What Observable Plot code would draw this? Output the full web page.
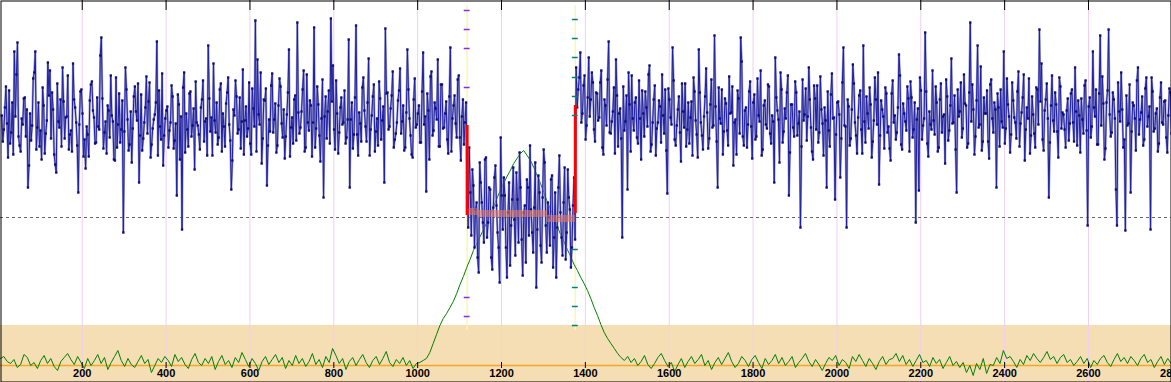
<!DOCTYPE html>
<html>
<head>
<meta charset="utf-8">
<script src="https://cdn.jsdelivr.net/npm/d3@7"></script>
<script src="https://cdn.jsdelivr.net/npm/@observablehq/plot@0.6"></script>
<style>
  html, body { margin: 0; padding: 0; background: #fff; }
  #chart svg { display: block; }
</style>
</head>
<body>
<div id="chart"></div>
<script>
// ---- data ----
const xTicks = [200, 400, 600, 800, 1000, 1200, 1400, 1600, 1800, 2000, 2200, 2400, 2600, 2800];

// blue series: samples every 5 units, plus the in-between samples (offset 2.5)
const blueStep = 5;
const blueLeftStart = 8;
const blueLeft = [
  102,88,131,60,74,115,166,143,81,66,
  93,120,108,52,77,139,166,90,71,58,
  112,84,155,147,125,63,45,96,118,150,
  79,101,68,87,154,110,72,93,128,61,
  49,83,117,136,100,75,91,162,119,85,
  64,107,142,96,57,70,124,88,-15,150,
  98,73,55,121,106,134,82,67,95,141,
  116,60,89,103,176,127,78,52,99,111,
  87,132,69,94,123,58,-12,145,104,71,
  126,92,48,95,83,110,137,96,62,119,
  100,154,85,73,128,66,91,114,140,77,
  57,102,121,88,69,148,97,81,135,63,
  109,197,158,93,54,118,129,72,86,144,
  98,65,112,131,80,59,103,168,90,74,
  122,195,84,106,147,70,95,117,61,190,
  89,113,56,138,101,79,127,199,152,68,
  104,85,120,95,74,98,30,115,83,192,
  62,94,130,107,76,159,88,121,66,99,
  136,78,111,189,125,91,122,70,84,117,
  149,96,67,105,128,82,60,139,93,112,
  75,165,101,124,58,146,87,109,158,71,
  133,90,116,64,170,99,122,80,142,57,
  118,95
];
const blueLeftMid = [
  76,110,94,127,85,63,101,175,72,99,
  119,81,30,104,92,145,68,115,87,130,
  64,97,122,79,108,53,134,90,71,116,
  100,142,83,66,118,95,25,126,104,78,
  91,61,133,107,74,120,88,180,69,96,
  112,80,102,58,140,93,75,117,86,128,
  67,106,89,131,97,35,123,79,110,84,
  135,73,98,115,62,91,144,82,107,70,
  95,121,77,22,113,101,130,65,88,124,
  81,109,136,92,68,118,76,99,172,86,
  62,97,115,80,134,104,71,125,93,28,
  108,137,84,120,96,63,111,89,74,129,
  91,66,103,145,79,117,32,98,132,85,
  114,72,139,94,108,81,125,61,100,118,
  77,105,90,128,66,143,87,112,95,70,
  131,82,99,20,121,106,74,116,88,137,
  64,110,93,127,80,178,98,69,120,83,
  105,76,140,91,115,62,102,133,86,72,
  119,97,35,124,88,109,146,78,95,127,
  84,112,70,168,99,63,118,90,104,75,
  126,93,26,107,141,82,115,98,71,133,
  89,104,78,121,66,112,94,138,80,101,
  73,115
];
const blueCenterStart = 1118;
const blueCenter = [
  45,70,-18,32,8,-40,55,15,-25,60,
  -5,28,-52,40,12,-30,80,-12,22,-60,
  35,-8,50,-38,18,65,-22,5,-45,30,
  72,-15,10,-70,42,-28,20,55,-35,0,
  38,-50,25,-10,62,-20,15,-42,48,8,
  -30,40
];
const blueCenterMid = [
  -10,25,48,-30,15,-55,35,-5,58,-20,
  30,-40,10,52,-15,-65,22,40,-30,5,
  -48,18,-2,45,-25,30,-58,12,38,-18,
  8,-35,55,-12,25,-45,68,-8,15,-28,
  42,-20,-60,30,5,-38,50,-15,20,-50,
  12,-22
];
const blueRightStart = 1378;
const blueRight = [
  150,128,165,104,142,92,160,118,135,76,
  124,100,147,63,112,138,85,96,130,158,
  71,109,-20,87,122,145,66,99,115,80,
  137,58,104,126,91,152,73,118,62,95,
  111,143,84,67,129,100,170,78,92,121,
  56,106,134,88,74,116,140,97,60,125,
  82,101,149,69,113,90,182,76,130,94,
  63,119,87,141,105,52,98,127,84,156,
  72,110,93,136,59,123,81,102,147,68,
  117,89,131,74,96,160,107,55,128,86,
  99,142,65,113,81,125,94,-10,138,103,
  77,150,90,58,119,132,85,108,62,97,
  126,71,144,100,83,116,40,135,92,-10,
  111,79,153,95,64,122,88,172,75,104,
  130,60,97,118,145,82,108,69,124,91,
  57,137,102,85,163,73,114,96,131,66,
  120,88,-5,109,140,78,99,126,61,93,
  147,83,115,70,134,101,54,121,87,159,
  95,68,128,106,80,143,112,74,195,133,
  63,117,90,151,76,104,127,59,138,85,
  108,124,71,96,166,89,113,65,135,100,
  79,146,94,120,57,110,139,82,103,70,
  128,188,154,67,118,99,75,142,86,113,
  60,131,105,88,107,77,124,95,150,72,
  102,119,84,137,-8,120,91,110,128,73,
  182,141,58,115,188,81,125,99,-8,106,
  145,70,-13,92,133,86,112,67,150,98,
  121,78,140,101,-12,126,89,109,74,135,
  93,117,65,129,84
];
const blueRightMid = [
  110,140,95,132,78,120,101,145,88,125,
  97,135,70,118,92,176,84,106,64,122,
  104,79,131,96,28,113,142,87,120,74,
  99,127,81,110,143,66,95,132,89,117,
  75,102,128,24,118,93,137,72,108,85,
  134,90,71,115,100,62,126,83,168,95,
  68,121,105,79,138,92,111,30,99,128,
  86,114,72,104,131,95,63,119,180,81,
  107,70,126,91,115,78,139,96,62,112,
  93,133,84,102,35,120,98,145,75,109,
  125,22,113,90,136,82,106,71,97,129,
  101,118,66,132,88,75,141,94,110,30,
  87,123,99,18,115,103,79,170,91,118,
  72,108,134,82,100,127,64,96,121,89,
  113,76,140,93,33,117,101,130,85,69,
  124,95,78,110,142,68,104,87,119,136,
  80,115,98,27,127,92,185,74,106,88,
  97,131,66,118,85,103,138,77,112,94,
  122,25,101,135,89,114,70,125,96,108,
  81,172,93,67,120,104,76,133,99,115,
  30,110,128,90,74,139,101,83,117,95,
  126,71,105,143,88,99,64,121,84,130,
  93,116,78,107,134,20,112,97,125,86,
  140,89,103,70,119,94,128,76,106,117,
  65,98,132,87,111,80,166,101,73,124,
  92,114,69,127,103,85,118,28,135,96,
  108,78,122,94,25,115,99,137,83,105,
  72,129,91,111,140,86,104,66,120,95,
  116,80,102,125,88
];
const midOffset = 2.5;

// green series, sampled every 8 units
const greenStep = 8;
const greenStart = 5;
const greenLeft = [
  -141,-139,-144,-146,-142,-150,-147,-137,-140,-148,
  -145,-151,-143,-138,-146,-141,-149,-153,-144,-140,
  -136,-142,-147,-139,-145,-151,-141,-148,-143,-137,
  -146,-140,-152,-145,-139,-133,-143,-149,-141,-147,
  -150,-144,-138,-146,-142,-155,-148,-141,-145,-139,
  -143,-149,-137,-144,-140,-147,-151,-142,-136,-145,
  -148,-141,-146,-139,-152,-144,-138,-147,-143,-150,
  -140,-145,-135,-142,-149,-141,-146,-153,-144,-139,
  -147,-142,-137,-145,-140,-151,-143,-148,-138,-146,
  -141,-149,-144,-136,-147,-142,-150,-139,-145,-131,
  -138,-146,-141,-152,-144,-140,-148,-142,-137,-145,
  -150,-143,-139,-147,-141,-134,-145,-149,-142,-146,
  -140,-148,-143,-151,-146
];
const greenPeak = [
  -145,-143,-141,-135,-126,-117,-108,-101,-96,-90,
  -84,-76,-67,-59,-50,-42,-33,-26,-19,-12,
  -5,3,11,19,27,34,41,47,54,59,
  64,67,62,57,50,42,34,25,16,8,
  0,-9,-17,-24,-32,-39,-47,-53,-60,-66,
  -73,-81,-90,-98,-107,-115,-121,-126,-131,-136,
  -140
];
const greenRight = [
  -143,-139,-145,-141,-148,-144,-138,-147,-151,-146,
  -140,-136,-143,-149,-145,-154,-147,-141,-150,-144,
  -139,-146,-142,-137,-148,-143,-152,-145,-140,-147,
  -141,-135,-144,-150,-146,-139,-143,-149,-142,-138,
  -145,-151,-141,-147,-143,-137,-146,-140,-148,-144,
  -139,-150,-145,-141,-136,-144,-149,-142,-147,-153,
  -146,-140,-143,-138,-148,-142,-145,-151,-139,-144,
  -137,-143,-149,-141,-146,-152,-144,-139,-147,-142,
  -141,-136,-144,-138,-147,-142,-149,-143,-137,-145,
  -143,-149,-140,-146,-142,-151,-145,-139,-148,-144,
  -150,-145,-155,-148,-158,-146,-152,-141,-156,-147,
  -148,-140,-146,-133,-141,-139,-144,-150,-142,-147,
  -138,-143,-136,-141,-145,-140,-134,-142,-139,-146,
  -140,-137,-145,-142,-148,-144,-139,-146,-141,-150,
  -143,-147,-141,-138,-145,-149,-142,-136,-144,-140,
  -146,-139,-143,-148,-141,-137,-145,-142,-150,-144,
  -139,-147,-141,-146
];

// region boundaries and markers
const boundaries = [1118, 1376];
const leftJump = {x: 1118, y1: 92, y2: 2};
const rightJump = {x: 1376, y1: 112, y2: 4};
const levelSegments = [
  {x1: 1118, x2: 1145, y: 6},
  {x1: 1145, x2: 1310, y: 4},
  {x1: 1310, x2: 1376, y: -1}
];
const purpleMarks = [207, 188, 169, 130, -80, -99];
const tealMarks = [198, 179, 160, 140, 121, 102, -32, -70, -89, -108];
const markHalf = 7;
const baselineLevel = 0;
const greenBaseline = -148;
const bandTop = -108;
const xDomain = [5, 2798];
const yDomain = [-165, 217];

// ---- build tables ----
const toPts = (arr, start, step) => arr.map((v, i) => ({x: start + i * step, y: v}));
const blue = [
  ...toPts(blueLeft, blueLeftStart, blueStep),
  ...toPts(blueLeftMid, blueLeftStart + midOffset, blueStep),
  ...toPts(blueCenter, blueCenterStart, blueStep),
  ...toPts(blueCenterMid, blueCenterStart + midOffset, blueStep),
  ...toPts(blueRight, blueRightStart, blueStep),
  ...toPts(blueRightMid, blueRightStart + midOffset, blueStep)
].sort((a, b) => a.x - b.x);
const greenVals = [...greenLeft, ...greenPeak, ...greenRight];
const green = toPts(greenVals, greenStart, greenStep);

const chart = Plot.plot({
  width: 1171,
  height: 382,
  margin: 0,
  style: {background: "#fff"},
  x: {domain: xDomain},
  y: {domain: yDomain, axis: null},
  marks: [
    Plot.rect([{}], {x1: xDomain[0], x2: xDomain[1], y1: yDomain[0], y2: bandTop, fill: "#f5deb3"}),
    Plot.gridX(xTicks, {stroke: "#efd0ef", strokeOpacity: 1}),
    Plot.ruleX(boundaries, {y1: -113, y2: 212, stroke: "#fbf5b0", strokeWidth: 1.5}),
    Plot.ruleY([baselineLevel], {stroke: "#666", strokeDasharray: "3,3"}),
    Plot.ruleY([greenBaseline], {stroke: "#f5a623", strokeWidth: 1.5}),
    Plot.line(green, {x: "x", y: "y", stroke: "#008000", strokeWidth: 1}),
    Plot.line(blue, {x: "x", y: "y", stroke: "#8484c8", strokeWidth: 2.2, strokeOpacity: 0.8}),
    Plot.line(blue, {x: "x", y: "y", stroke: "#2020a0", strokeWidth: 1}),
    Plot.dot(blue, {x: "x", y: "y", symbol: "square", r: 1.3, fill: "#0c0c7a", stroke: null}),
    Plot.ruleY(levelSegments, {x1: "x1", x2: "x2", y: "y", stroke: "#e07a6a", strokeWidth: 7, strokeOpacity: 0.6}),
    Plot.ruleX([leftJump, rightJump], {x: "x", y1: "y1", y2: "y2", stroke: "#ff0000", strokeWidth: 3}),
    Plot.ruleY(purpleMarks, {x1: boundaries[0] - markHalf, x2: boundaries[0] + markHalf, stroke: "#8a2be2", strokeWidth: 1.5}),
    Plot.ruleY(tealMarks, {x1: boundaries[1] - markHalf, x2: boundaries[1] + markHalf, stroke: "#008080", strokeWidth: 1.5}),
    Plot.ruleX(xTicks, {y1: 207, y2: yDomain[1], stroke: "#000"}),
    Plot.axisX(xTicks, {
      anchor: "bottom", dy: -20, tickSize: 6, tickPadding: 1,
      tickFormat: d => String(d), label: null,
      fontSize: 11, fontWeight: "bold", fontFamily: "Liberation Sans, Arial, sans-serif", fill: "#000"
    }),
    Plot.frame({stroke: "#000", inset: 0.5})
  ]
});
document.getElementById("chart").appendChild(chart);
</script>
</body>
</html>
